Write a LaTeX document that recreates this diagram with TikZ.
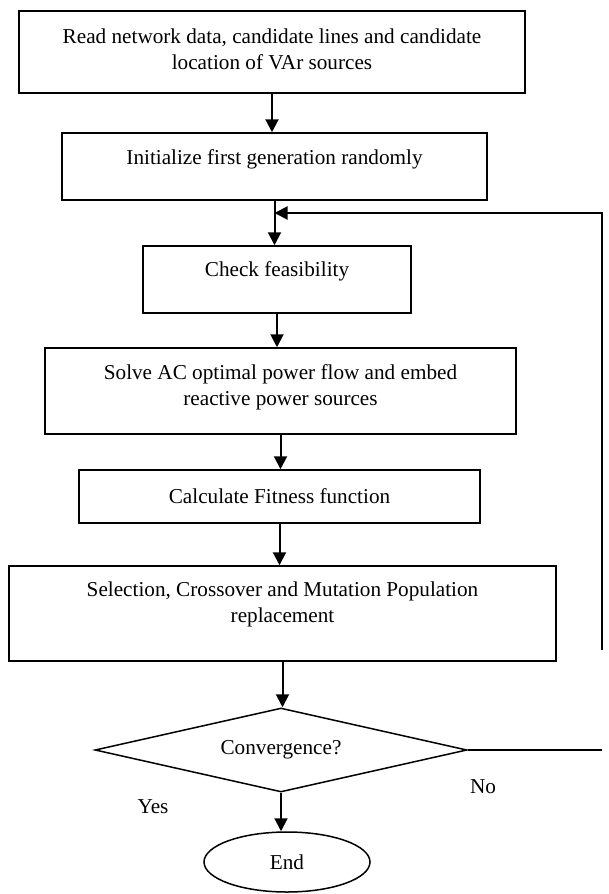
\documentclass[tikz,border=0pt]{standalone}
\usepackage{fontspec}
\setmainfont{Liberation Serif}
\usetikzlibrary{arrows.meta,shapes.geometric}
\begin{document}
\begin{tikzpicture}[x=1pt,y=-1pt,
  txt/.style={align=center,inner sep=0pt,font=\fontsize{21.2}{26}\selectfont},
  box/.style={draw,line width=1.5pt,rectangle,inner sep=0pt},
  flow/.style={line width=2pt,-{Triangle[length=13pt,width=13pt]}},
  lbl/.style={font=\fontsize{21.2}{26}\selectfont}]
\useasboundingbox (0,0) rectangle (608,894);
\node[box,minimum width=506pt,minimum height=82pt,
  label={[txt,yshift=3pt]center:Read network data, candidate lines and candidate\\location of VAr sources}] (b1) at (272,52) {};
\node[box,minimum width=425pt,minimum height=67pt,
  label={[txt,yshift=7pt]center:Initialize first generation randomly}] (b2) at (274.5,166.5) {};
\node[box,minimum width=268pt,minimum height=67pt,
  label={[txt,yshift=8pt]center:Check feasibility}] (b3) at (277,279.5) {};
\node[box,minimum width=471pt,minimum height=86pt,
  label={[txt,yshift=4pt]center:Solve AC optimal power flow and embed\\reactive power sources}] (b4) at (280.5,391) {};
\node[box,minimum width=401pt,minimum height=53pt,
  label={[txt]center:Calculate Fitness function}] (b5) at (279.5,496.5) {};
\node[box,minimum width=547pt,minimum height=95pt,
  label={[txt,yshift=9pt]center:Selection, Crossover and Mutation Population\\replacement}] (b6) at (282.5,613.5) {};
\node[draw,line width=1.5pt,diamond,aspect=4.43,inner sep=0pt,minimum width=372pt,minimum height=84pt,lbl] (d) at (281,750) {Convergence?};
\node[draw,line width=1.5pt,ellipse,minimum width=166pt,minimum height=60pt,lbl] (e) at (287,862) {End};
\node[lbl] (yes) at (153,807) {Yes};
\node[lbl] (no) at (483,787) {No};
\coordinate (r1) at (602,750);
\coordinate (r2) at (602,650);
\coordinate (r3) at (602,213);
\coordinate (j) at (b2.south |- r3);
\draw[flow] (b1.south) -- (b1.south |- b2.north);
\draw[flow] (b2.south) -- (b2.south |- b3.north);
\draw[flow] (b3.south) -- (b3.south |- b4.north);
\draw[flow] (b4.south) -- (b4.south |- b5.north);
\draw[flow] (b5.south) -- (b5.south |- b6.north);
\draw[flow] (b6.south) -- (b6.south |- d.north);
\draw[flow] (d.south) -- (d.south |- e.north);
\draw[line width=1.5pt] (d.east) -- (r1);
\draw[flow] (r2) -- (r3) -- (j);
\end{tikzpicture}
\end{document}
